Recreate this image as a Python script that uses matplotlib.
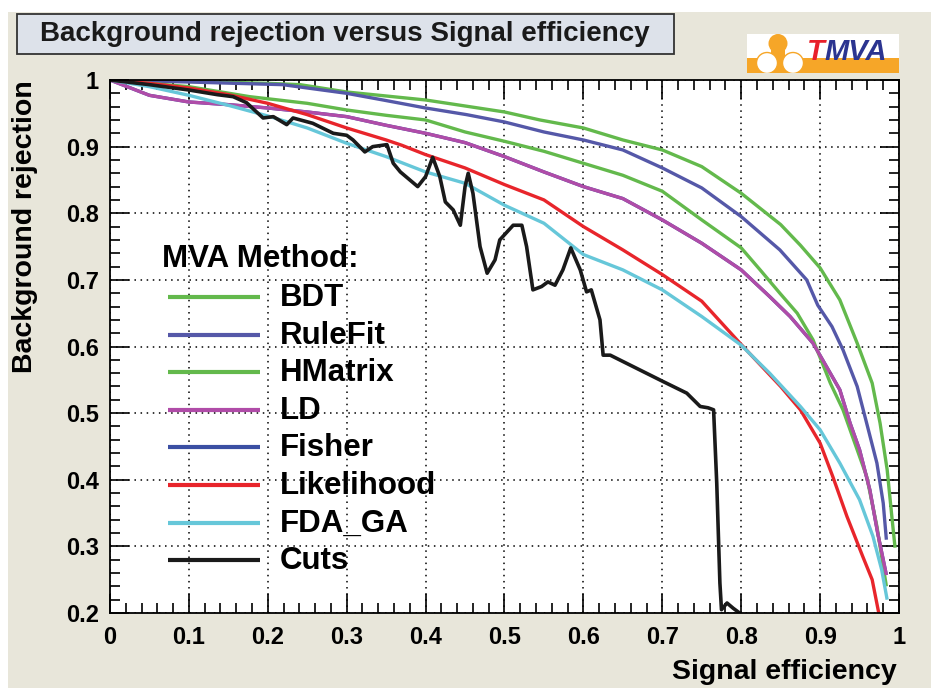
import numpy as np
import matplotlib
matplotlib.use("Agg")
import matplotlib.pyplot as plt
from matplotlib.patches import Rectangle, Circle
from matplotlib.lines import Line2D
from matplotlib.ticker import MultipleLocator

# ROC curves: background rejection vs signal efficiency
bdt_eff = [0.0, 0.1, 0.2, 0.241, 0.3, 0.4, 0.5, 0.545, 0.6, 0.65, 0.7, 0.75, 0.8, 0.85, 0.875,
           0.9, 0.925, 0.947, 0.966, 0.976, 0.985, 0.991, 0.995]
bdt_rej = [1.0, 0.998, 0.995, 0.993, 0.982, 0.97, 0.952, 0.94, 0.928, 0.91, 0.895, 0.87, 0.83, 0.783, 0.752,
           0.718, 0.67, 0.605, 0.545, 0.485, 0.415, 0.344, 0.298]

rulefit_eff = [0.0, 0.1, 0.219, 0.3, 0.346, 0.4, 0.452, 0.5, 0.55, 0.6, 0.65, 0.7, 0.75, 0.8, 0.849,
               0.883, 0.897, 0.915, 0.929, 0.947, 0.959, 0.972, 0.98, 0.984]
rulefit_rej = [1.0, 0.997, 0.993, 0.98, 0.97, 0.958, 0.948, 0.937, 0.922, 0.91, 0.895, 0.868, 0.838, 0.795, 0.745,
               0.70, 0.662, 0.63, 0.595, 0.54, 0.485, 0.425, 0.365, 0.31]

hmatrix_eff = [0.0, 0.05, 0.1, 0.177, 0.25, 0.3, 0.35, 0.4, 0.45, 0.5, 0.55, 0.6, 0.65, 0.7, 0.75, 0.8,
               0.824, 0.849, 0.871, 0.891, 0.913, 0.929, 0.944, 0.959, 0.972, 0.984]
hmatrix_rej = [1.0, 0.995, 0.99, 0.975, 0.965, 0.955, 0.947, 0.94, 0.922, 0.908, 0.893, 0.875, 0.857, 0.833, 0.79, 0.748,
               0.715, 0.68, 0.65, 0.61, 0.545, 0.505, 0.455, 0.405, 0.33, 0.24]

ld_eff = [0.0, 0.05, 0.1, 0.15, 0.2, 0.25, 0.3, 0.35, 0.4, 0.45, 0.5, 0.55, 0.6, 0.65, 0.7, 0.75, 0.8,
          0.836, 0.862, 0.891, 0.908, 0.925, 0.938, 0.95, 0.963, 0.973, 0.984]
ld_rej = [1.0, 0.977, 0.967, 0.963, 0.958, 0.952, 0.945, 0.932, 0.92, 0.906, 0.885, 0.862, 0.84, 0.822, 0.79, 0.755, 0.715,
          0.675, 0.645, 0.605, 0.57, 0.535, 0.485, 0.445, 0.385, 0.32, 0.257]

fisher_eff = [0.0, 0.05, 0.1, 0.15, 0.2, 0.25, 0.3, 0.35, 0.4, 0.45, 0.5, 0.55, 0.6, 0.65, 0.7, 0.75, 0.8,
              0.836, 0.862, 0.891, 0.908, 0.925, 0.938, 0.95, 0.963, 0.973, 0.984]
fisher_rej = [1.0, 0.977, 0.967, 0.963, 0.958, 0.952, 0.945, 0.932, 0.92, 0.906, 0.885, 0.862, 0.84, 0.822, 0.79, 0.755, 0.715,
              0.675, 0.645, 0.605, 0.57, 0.535, 0.485, 0.445, 0.385, 0.32, 0.257]

lik_eff = [0.0, 0.05, 0.1, 0.15, 0.2, 0.25, 0.3, 0.35, 0.37, 0.4, 0.45, 0.5, 0.55, 0.6, 0.65, 0.7, 0.75,
           0.8, 0.85, 0.875, 0.9, 0.916, 0.934, 0.954, 0.966, 0.976]
lik_rej = [1.0, 0.995, 0.988, 0.978, 0.965, 0.948, 0.928, 0.91, 0.902, 0.888, 0.868, 0.843, 0.82, 0.78, 0.745, 0.708, 0.668,
           0.603, 0.54, 0.505, 0.455, 0.405, 0.345, 0.285, 0.25, 0.19]

fda_eff = [0.0, 0.05, 0.1, 0.15, 0.2, 0.25, 0.3, 0.35, 0.4, 0.45, 0.5, 0.55, 0.6, 0.65, 0.7, 0.75, 0.8,
           0.836, 0.875, 0.9, 0.925, 0.95, 0.967, 0.978, 0.985]
fda_rej = [1.0, 0.99, 0.977, 0.962, 0.946, 0.928, 0.905, 0.885, 0.862, 0.845, 0.812, 0.785, 0.738, 0.715, 0.685, 0.645, 0.602,
           0.56, 0.51, 0.475, 0.425, 0.37, 0.315, 0.265, 0.22]

cuts_eff = [0.0, 0.05, 0.1, 0.136, 0.156, 0.173, 0.194, 0.207, 0.224, 0.232, 0.257, 0.283, 0.3, 0.308, 0.323,
            0.333, 0.351, 0.359, 0.368, 0.39, 0.4, 0.409, 0.418, 0.425, 0.435, 0.444, 0.45, 0.454, 0.46,
            0.469, 0.478, 0.488, 0.494, 0.511, 0.522, 0.528, 0.536, 0.547, 0.555, 0.564, 0.574, 0.584,
            0.596, 0.604, 0.61, 0.621, 0.625, 0.634, 0.7, 0.731, 0.748, 0.758, 0.765, 0.769, 0.773,
            0.775, 0.782, 0.79, 0.798, 0.8]
cuts_rej = [1.0, 0.993, 0.985, 0.978, 0.975, 0.966, 0.943, 0.945, 0.933, 0.943, 0.935, 0.92, 0.917, 0.91, 0.892,
            0.9, 0.903, 0.875, 0.862, 0.84, 0.855, 0.884, 0.855, 0.817, 0.805, 0.782, 0.84, 0.86, 0.83,
            0.75, 0.71, 0.73, 0.76, 0.782, 0.782, 0.75, 0.685, 0.69, 0.697, 0.692, 0.715, 0.748,
            0.715, 0.682, 0.685, 0.64, 0.587, 0.587, 0.548, 0.53, 0.51, 0.508, 0.505, 0.395, 0.245,
            0.205, 0.215, 0.207, 0.2, 0.195]

methods = ["BDT", "RuleFit", "HMatrix", "LD", "Fisher", "Likelihood", "FDA_GA", "Cuts"]
colors = ["#63b94c", "#5558a8", "#63b94c", "#b04ca8", "#3b4fa3", "#e8252b", "#66c7d9", "#1a1a1a"]
curves = [(bdt_eff, bdt_rej), (rulefit_eff, rulefit_rej), (hmatrix_eff, hmatrix_rej), (ld_eff, ld_rej),
          (fisher_eff, fisher_rej), (lik_eff, lik_rej), (fda_eff, fda_rej), (cuts_eff, cuts_rej)]
# Fisher sits underneath LD, Cuts on top
zorders = [3, 3, 3, 4, 2, 5, 6, 7]

x_ticks = np.arange(0, 1.01, 0.1)
x_labels = ["0", "0.1", "0.2", "0.3", "0.4", "0.5", "0.6", "0.7", "0.8", "0.9", "1"]
y_ticks = np.arange(0.2, 1.01, 0.1)
y_labels = ["0.2", "0.3", "0.4", "0.5", "0.6", "0.7", "0.8", "0.9", "1"]

FONT = ["Liberation Sans", "DejaVu Sans"]
plt.rcParams["font.family"] = FONT

W, H = 931, 688
fig = plt.figure(figsize=(W / 100, H / 100), dpi=100, facecolor="white")


def fx(x):
    return x / W


def fy(y):
    return 1 - y / H


# canvas background (white strip on top and left edge)
fig.patches.append(Rectangle((fx(8), 0), 1 - fx(8), fy(12), transform=fig.transFigure,
                             facecolor="#e8e6da", edgecolor="none", zorder=-10))

ax = fig.add_axes([fx(110), fy(613), 789 / W, 533 / H])
ax.set_facecolor("white")
ax.set_xlim(0, 1)
ax.set_ylim(0.2, 1)

for (eff, rej), col, z, name in zip(curves, colors, zorders, methods):
    lw = 2.6 if name == "Cuts" else 2.4
    ax.plot(eff, rej, color=col, lw=lw, zorder=z, solid_joinstyle="round", solid_capstyle="butt")

ax.set_xticks(x_ticks)
ax.set_xticklabels(x_labels)
ax.set_yticks(y_ticks)
ax.set_yticklabels(y_labels)
ax.xaxis.set_minor_locator(MultipleLocator(0.02))
ax.yaxis.set_minor_locator(MultipleLocator(0.02))
ax.tick_params(which="both", direction="in", top=True, right=True, width=1.2, color="black")
ax.tick_params(which="major", length=14)
ax.tick_params(which="minor", length=7)
ax.tick_params(axis="x", pad=9)
ax.tick_params(axis="y", pad=8)
for lab in ax.get_xticklabels() + ax.get_yticklabels():
    lab.set_fontsize(17)
    lab.set_fontweight("bold")
for sp in ax.spines.values():
    sp.set_linewidth(1.3)
    sp.set_zorder(8)

ax.grid(True, which="major", color="black", linestyle=(0, (1, 3)), linewidth=1.1)
for gl in ax.get_xgridlines() + ax.get_ygridlines():
    gl.set_zorder(1)

# axis titles
fig.text(fx(897), fy(672), "Signal efficiency", ha="right", va="center", fontsize=20.5, fontweight="bold")
fig.text(fx(25), fy(80), "Background rejection", ha="center", va="top", rotation=90,
         fontsize=20.5, fontweight="bold")

# title box
fig.patches.append(Rectangle((fx(17), fy(54)), 657 / W, 40 / H, transform=fig.transFigure,
                             facecolor="#dde2ea", edgecolor="#333333", lw=1.3, zorder=2))
fig.text(fx(345), fy(34), "Background rejection versus Signal efficiency", ha="center", va="center",
         fontsize=20, fontweight="bold", color="#1a1a1a", zorder=3)

# legend
fig.text(fx(162), fy(259), "MVA Method:", ha="left", va="center", fontsize=22.5, fontweight="bold")
for i, (name, col) in enumerate(zip(methods, colors)):
    yy = 297 + i * 37.6
    fig.add_artist(Line2D([fx(168), fx(260)], [fy(yy), fy(yy)], transform=fig.transFigure,
                          color=col, lw=3.0, solid_capstyle="butt"))
    fig.text(fx(280), fy(yy + 1), name, ha="left", va="center", fontsize=22.5, fontweight="bold")

# TMVA logo
lax = fig.add_axes([fx(747), fy(73), 152 / W, 39 / H])
lax.set_xlim(747, 899)
lax.set_ylim(73, 34)
lax.axis("off")
orange = "#f6a628"
lax.add_patch(Rectangle((747, 34), 152, 39, facecolor="white", edgecolor="none"))
lax.add_patch(Rectangle((747, 58), 152, 15, facecolor=orange, edgecolor="none"))
lax.add_patch(Rectangle((771, 46), 14, 12, facecolor=orange, edgecolor="none"))
lax.add_patch(Circle((778, 43.5), 9.5, facecolor=orange, edgecolor="none"))
lax.add_patch(Circle((767, 63), 10.5, facecolor="white", edgecolor=orange, lw=1.0))
lax.add_patch(Circle((793, 63), 10.5, facecolor="white", edgecolor=orange, lw=1.0))
lax.text(807, 52, "T", color="#e8202a", fontsize=21, fontweight="bold", fontstyle="italic",
         ha="left", va="center")
lax.text(824, 52, "MVA", color="#2b3490", fontsize=21, fontweight="bold", fontstyle="italic",
         ha="left", va="center")

fig.savefig("out.png", dpi=100, facecolor=fig.get_facecolor())
